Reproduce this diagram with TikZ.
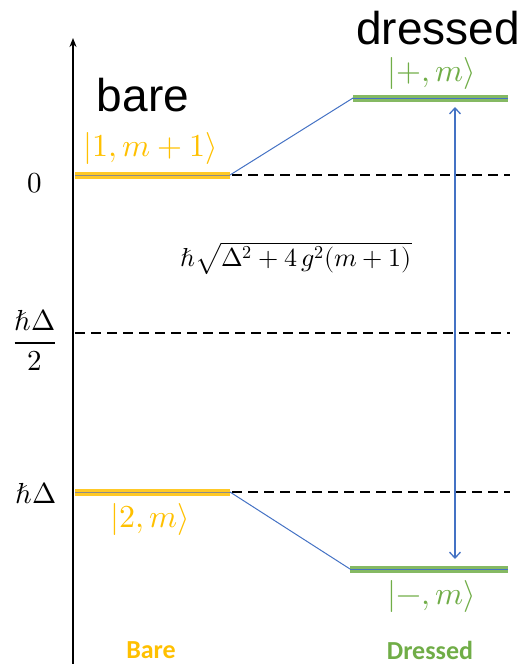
\documentclass[tikz,border=0pt]{standalone}
\usepackage{fontspec}
\usepackage{unicode-math}
\setmathfont{Latin Modern Math}
\setsansfont{Liberation Sans}
\newfontfamily\footfont{Carlito}
\usetikzlibrary{arrows.meta}

\definecolor{cyellow}{HTML}{FFC000}
\definecolor{cgreen}{HTML}{70AD47}
\definecolor{cblue}{HTML}{4472C4}
\newcommand{\lvlwidth}{7pt}

\begin{document}
\begin{tikzpicture}[
    x=1pt, y=-1pt,
    barelvl/.style={line width=\lvlwidth, cyellow!85},
    dresslvl/.style={line width=\lvlwidth, cgreen!85},
    corebare/.style={line width=1pt, black!45},
    coredress/.style={line width=1pt, cblue},
    link/.style={cblue, line width=1pt},
    guide/.style={dash pattern=on 10pt off 6pt, line width=1.3pt},
    ket/.style={font=\fontsize{32}{38}\selectfont, inner sep=0pt},
    axislbl/.style={font=\fontsize{29}{34}\selectfont, inner sep=0pt},
    heading/.style={font=\sffamily\fontsize{46}{50}\selectfont, inner sep=0pt},
    footlbl/.style={font=\footfont\bfseries\fontsize{26}{28}\selectfont, inner sep=0pt},
]

\useasboundingbox (0,0) rectangle (526,664);

% Energy axis
\coordinate (axbot) at (73,664);
\coordinate (axtop) at (73,38);
\draw[line width=1.5pt, -{Stealth[length=9pt, width=7pt]}] (axbot) -- (axtop);

% Level end points
\coordinate (b1l) at (75,175);  \coordinate (b1r) at (230,175);
\coordinate (b2l) at (75,492);  \coordinate (b2r) at (230,492);
\coordinate (dpl) at (353,98);  \coordinate (dpr) at (508,98);
\coordinate (dml) at (350,569); \coordinate (dmr) at (508,569);
\coordinate (g1s) at (232,175); \coordinate (g1e) at (510,175);
\coordinate (g2s) at (75,333);  \coordinate (g2e) at (510,333);
\coordinate (g3s) at (232,492); \coordinate (g3e) at (510,492);

% Dashed guides
\draw[guide] (g1s) -- (g1e);
\draw[guide] (g2s) -- (g2e);
\draw[guide] (g3s) -- (g3e);

% Bare levels
\draw[barelvl] (b1l) -- (b1r);
\draw[corebare] (b1l) -- (b1r);
\draw[barelvl] (b2l) -- (b2r);
\draw[corebare] (b2l) -- (b2r);

% Dressed levels
\draw[dresslvl] (dpl) -- (dpr);
\draw[coredress] (dpl) -- (dpr);
\draw[dresslvl] (dml) -- (dmr);
\draw[coredress] (dml) -- (dmr);

% Connectors
\draw[link] (b1r) -- (dpl);
\draw[link] (b2r) -- (dml);

% Splitting
\coordinate (arrtop) at (455,107);
\coordinate (arrbot) at (455,559);
\draw[link, line width=1.3pt, {Straight Barb[length=6pt, width=11pt]}-{Straight Barb[length=6pt, width=11pt]}] (arrtop) -- (arrbot);
\node[font=\fontsize{26}{30}\selectfont] (split) at (296,258) {$\hbar\sqrt{\Delta^2+4\,g^2(m+1)}$};

% Kets
\node[ket, text=cyellow] (k1) at (151,148) {$|1,m+1\rangle$};
\node[ket, text=cyellow] (k2) at (150,519) {$|2,m\rangle$};
\node[ket, text=cgreen] (kp) at (432,73) {$|+,m\rangle$};
\node[ket, text=cgreen] (km) at (432,596) {$|-,m\rangle$};

% Axis labels
\node[axislbl] (e0) at (35,183) {$0$};
\node[axislbl] (eh) at (35,340) {$\dfrac{\hbar\Delta}{2}$};
\node[axislbl] (ed) at (36,493) {$\hbar\Delta$};

% Headings
\node[heading] (hbare) at (143,95) {bare};
\node[heading] (hdress) at (438,28) {dressed};
\node[footlbl, text=cyellow] (fbare) at (151,650) {Bare};
\node[footlbl, text=cgreen] (fdress) at (430,650) {Dressed};

\end{tikzpicture}
\end{document}
